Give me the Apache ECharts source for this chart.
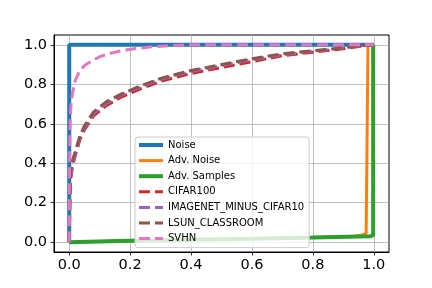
<!DOCTYPE html>
<html>
<head>
<meta charset="utf-8">
<script src="https://cdn.jsdelivr.net/npm/echarts@6/dist/echarts.min.js"></script>
<style>html,body{margin:0;padding:0;background:#fff;}#c{width:432px;height:288px;}</style>
</head>
<body>
<div id="c"></div>
<script>
const tickValues = [0, 0.2, 0.4, 0.6, 0.8, 1.0];
const seriesNames = ['Noise', 'Adv. Noise', 'Adv. Samples', 'CIFAR100', 'IMAGENET_MINUS_CIFAR10', 'LSUN_CLASSROOM', 'SVHN'];

const noiseX = [0, 0, 1];
const noiseY = [0, 1, 1];

const advNoiseX = [0, 0.2, 0.4, 0.6, 0.8, 0.93, 0.96, 0.975, 0.981, 0.981, 1.0];
const advNoiseY = [0, 0.008, 0.013, 0.018, 0.024, 0.029, 0.035, 0.045, 0.05, 1.0, 1.0];

const advSamplesX = [0, 0.2, 0.4, 0.6, 0.8, 0.99, 0.998, 0.998];
const advSamplesY = [0, 0.007, 0.012, 0.017, 0.023, 0.03, 0.035, 1.0];

const oodX = [0, 0.002, 0.005, 0.01, 0.02, 0.035, 0.05, 0.08, 0.12, 0.17, 0.23, 0.3, 0.4, 0.5, 0.6, 0.7, 0.8, 0.9, 0.95, 1.0];
const cifar100Y = [0, 0.2, 0.32, 0.38, 0.44, 0.52, 0.57, 0.64, 0.69, 0.735, 0.775, 0.815, 0.855, 0.885, 0.915, 0.945, 0.963, 0.98, 0.992, 1.0];
const imagenetY = [0, 0.22, 0.33, 0.39, 0.45, 0.53, 0.58, 0.65, 0.70, 0.745, 0.785, 0.825, 0.865, 0.895, 0.925, 0.95, 0.968, 0.984, 0.994, 1.0];
const lsunY = [0, 0.25, 0.36, 0.41, 0.46, 0.54, 0.59, 0.66, 0.71, 0.75, 0.79, 0.83, 0.87, 0.90, 0.93, 0.955, 0.97, 0.985, 0.995, 1.0];

const svhnX = [0, 0.001, 0.003, 0.006, 0.01, 0.02, 0.035, 0.05, 0.07, 0.1, 0.13, 0.17, 0.22, 0.27, 0.33, 0.4, 0.6, 0.8, 1.0];
const svhnY = [0, 0.4, 0.62, 0.7, 0.75, 0.82, 0.87, 0.895, 0.915, 0.94, 0.955, 0.97, 0.982, 0.99, 0.996, 1.0, 1.0, 1.0, 1.0];

const zip = (xs, ys) => xs.map((x, i) => [x, ys[i]]);

const colors = ['#1f77b4', '#ff7f0e', '#2ca02c', '#d62728', '#9467bd', '#8c564b', '#e377c2'];
const widths = [4, 3, 4, 3, 3, 3, 3];
const dashed = [false, false, false, true, true, true, true];
const dataSets = [
  zip(noiseX, noiseY),
  zip(advNoiseX, advNoiseY),
  zip(advSamplesX, advSamplesY),
  zip(oodX, cifar100Y),
  zip(oodX, imagenetY),
  zip(oodX, lsunY),
  zip(svhnX, svhnY)
];

const FONT = 'DejaVu Sans';
const chart = echarts.init(document.getElementById('c'), null, {renderer: 'canvas'});

const axisCommon = {
  type: 'value', min: -0.05, max: 1.05,
  axisLine: {show: true, onZero: false, lineStyle: {color: '#000', width: 1}},
  axisTick: {show: true, length: 3.5, inside: false, customValues: tickValues, lineStyle: {color: '#000', width: 0.8}},
  axisLabel: {customValues: tickValues, fontFamily: FONT, fontSize: 14.5, color: '#000',
    formatter: v => v.toFixed(1)},
  splitLine: {show: true, lineStyle: {color: '#b0b0b0', width: 0.8}}
};

const lineType = i => dashed[i] ? [11, 5] : 'solid';

chart.setOption({
  animation: false,
  backgroundColor: '#fff',
  grid: {left: 54, right: 43, top: 35, bottom: 36, show: true, borderColor: '#000', borderWidth: 1, containLabel: false},
  xAxis: Object.assign({}, axisCommon, {axisLabel: Object.assign({}, axisCommon.axisLabel, {margin: 6})}),
  yAxis: Object.assign({}, axisCommon, {axisLabel: Object.assign({}, axisCommon.axisLabel, {margin: 7})}),
  legend: {
    orient: 'vertical', left: 135, top: 137, z: 50,
    itemWidth: 24, itemHeight: 12, itemGap: 3.6,
    padding: [2, 5, 3, 2],
    backgroundColor: 'rgba(255,255,255,0.8)',
    borderColor: '#cccccc', borderWidth: 1, borderRadius: 3,
    itemStyle: {opacity: 0},
    textStyle: {fontFamily: FONT, fontSize: 10, color: '#000', lineHeight: 12},
    data: seriesNames.map((name, i) => ({
      name: name,
      lineStyle: {color: colors[i], width: widths[i], type: lineType(i), cap: 'butt'}
    }))
  },
  series: seriesNames.map((name, i) => ({
    name: name, type: 'line', data: dataSets[i],
    showSymbol: false, symbol: 'none',
    color: colors[i],
    lineStyle: {color: colors[i], width: widths[i], type: lineType(i), cap: 'butt'},
    z: 2 + i
  }))
});
</script>
</body>
</html>
